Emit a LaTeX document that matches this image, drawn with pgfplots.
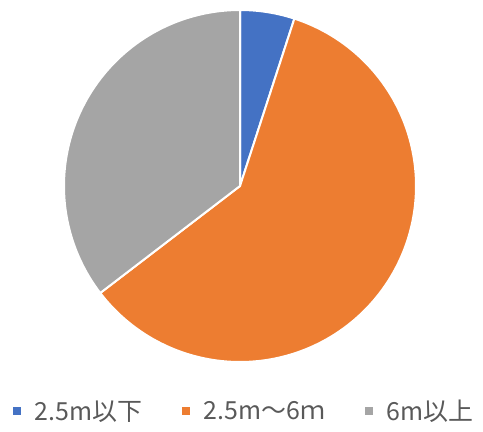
\documentclass[border=0pt]{standalone}
\usepackage{pgfplots}
\pgfplotsset{compat=1.18}
\usepackage{pgfplotstable}
\usepackage{fontspec}
\setmainfont{Noto Sans CJK JP}
\definecolor{cBlue}{HTML}{4472C4}
\definecolor{cOrange}{HTML}{ED7D31}
\definecolor{cGray}{HTML}{A5A5A5}
\definecolor{cText}{HTML}{595959}

% share of each class (percent)
\pgfplotstableread{
label value
a 5.0
b 59.6
c 35.4
}\piedata

\begin{document}
\begin{tikzpicture}
\pgfplotstablegetelem{0}{value}\of\piedata \let\va\pgfplotsretval
\pgfplotstablegetelem{1}{value}\of\piedata \let\vb\pgfplotsretval
\pgfplotstablegetelem{2}{value}\of\piedata \let\vc\pgfplotsretval
\pgfmathsetmacro\aA{90}
\pgfmathsetmacro\aB{90-3.6*\va}
\pgfmathsetmacro\aC{\aB-3.6*\vb}
\pgfmathsetmacro\aD{\aC-3.6*\vc}
\path[use as bounding box] (-64bp,-70bp) rectangle (419bp,362bp);
\begin{axis}[
    at={(176bp,176bp)}, anchor=center,
    scale only axis, width=352bp, height=352bp,
    xmin=-1, xmax=1, ymin=-1, ymax=1,
    hide axis, clip=false,
    legend columns=3,
    legend style={at={(0.509,-0.14)}, anchor=center, draw=none, fill=none,
        font=\fontsize{25}{28}\selectfont, text=cText, inner sep=0pt,
        /tikz/every odd column/.append style={column sep=10bp},
        /tikz/every even column/.append style={column sep=36bp}},
    legend image code/.code={\fill[#1] (0bp,-4.8bp) rectangle (9.6bp,4.8bp);},
    every axis plot/.append style={draw=white, line width=2bp, line join=round},
]
\addplot[fill=cBlue, domain=\aB:\aA, samples=40, variable=\t]
    ({cos(\t)}, {sin(\t)}) -- (0,0) -- cycle;
\addlegendentry{2.5m以下}
\addplot[fill=cOrange, domain=\aC:\aB, samples=200, variable=\t]
    ({cos(\t)}, {sin(\t)}) -- (0,0) -- cycle;
\addlegendentry{2.5m～6ｍ}
\addplot[fill=cGray, domain=\aD:\aC, samples=150, variable=\t]
    ({cos(\t)}, {sin(\t)}) -- (0,0) -- cycle;
\addlegendentry{6m以上}
\end{axis}
\end{tikzpicture}
\end{document}
